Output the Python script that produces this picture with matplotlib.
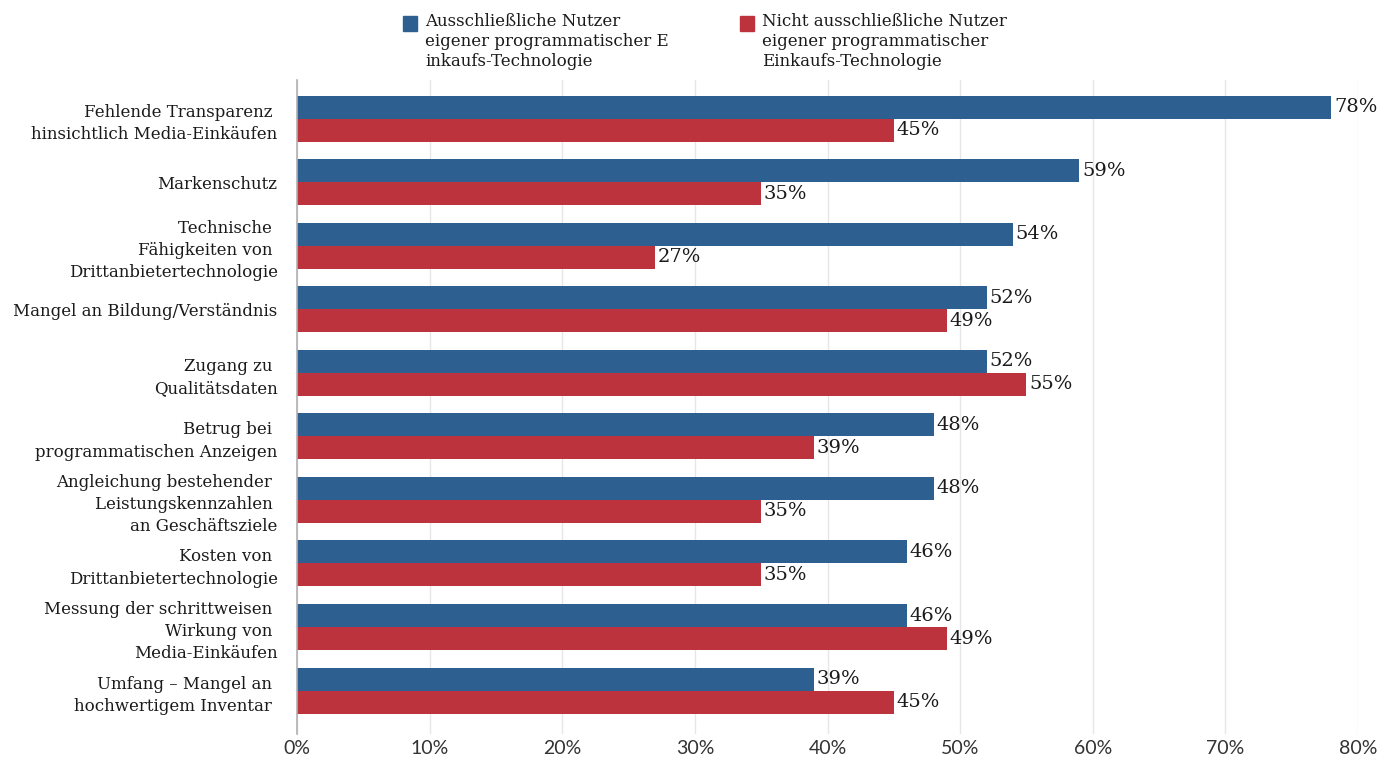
import matplotlib
matplotlib.use("Agg")
import matplotlib.pyplot as plt
import numpy as np

categories = [
    "Fehlende Transparenz \nhinsichtlich Media-Einkäufen",
    "Markenschutz",
    "Technische \nFähigkeiten von \nDrittanbietertechnologie",
    "Mangel an Bildung/Verständnis",
    "Zugang zu \nQualitätsdaten",
    "Betrug bei \nprogrammatischen Anzeigen",
    "Angleichung bestehender \nLeistungskennzahlen \nan Geschäftsziele",
    "Kosten von \nDrittanbietertechnologie",
    "Messung der schrittweisen \nWirkung von \nMedia-Einkäufen",
    "Umfang – Mangel an \nhochwertigem Inventar ",
]
exclusive = [78, 59, 54, 52, 52, 48, 48, 46, 46, 39]
non_exclusive = [45, 35, 27, 49, 55, 39, 35, 35, 49, 45]
series_names = [
    "Ausschließliche Nutzer\neigener programmatischer E\ninkaufs-Technologie",
    "Nicht ausschließliche Nutzer\neigener programmatischer\nEinkaufs-Technologie",
]
xticks = [0, 10, 20, 30, 40, 50, 60, 70, 80]
xticklabels = [f"{t}%" for t in xticks]

BLUE = "#2D5F91"
RED = "#BC333D"
TEXT = "#1a1a1a"
SERIF = ["DejaVu Serif"]

W, H = 1381, 762
fig = plt.figure(figsize=(W / 100, H / 100), dpi=100)
ax = fig.add_axes([297 / W, 1 - 734 / H, (1358 - 297) / W, (734 - 80) / H])

y = np.arange(len(categories))
bh = 23 / 63.5
ax.barh(y - bh / 2, exclusive, height=bh, color=BLUE, zorder=2)
ax.barh(y + bh / 2, non_exclusive, height=bh, color=RED, zorder=2)

for yi, v in zip(y, exclusive):
    ax.text(v + 0.2, yi - bh / 2, f"{v}%", va="center", ha="left",
            fontsize=14, family=SERIF, color=TEXT)
for yi, v in zip(y, non_exclusive):
    ax.text(v + 0.2, yi + bh / 2, f"{v}%", va="center", ha="left",
            fontsize=14, family=SERIF, color=TEXT)

ax.set_xlim(0, 80)
ax.set_ylim(9.685, -0.614)
ax.set_xticks(xticks)
ax.set_xticklabels(xticklabels, family=["Lato"], fontsize=14, color="#333333")
ax.set_yticks(y)
ax.set_yticklabels(categories, family=SERIF, fontsize=12, color=TEXT,
                   linespacing=1.4)
ax.tick_params(axis="y", length=0, pad=14)
ax.tick_params(axis="x", length=0, pad=4)
ax.grid(axis="x", color="#e6e6e6", linewidth=1, zorder=0)
for s in ["top", "right", "bottom"]:
    ax.spines[s].set_visible(False)
ax.spines["left"].set_color("#b0b0b0")
ax.spines["left"].set_linewidth(1.2)
ax.spines["left"].set_zorder(3)

# legend
for x0, name, col in [(403, series_names[0], BLUE), (740, series_names[1], RED)]:
    fig.patches.append(plt.Rectangle((x0 / W, 1 - 31 / H), 14 / W, 15 / H,
                                     transform=fig.transFigure, color=col))
    fig.text((x0 + 22) / W, 1 - 13 / H, name, ha="left", va="top",
             fontsize=12, family=SERIF, color=TEXT, linespacing=1.25)

fig.savefig("out.png", dpi=100)
